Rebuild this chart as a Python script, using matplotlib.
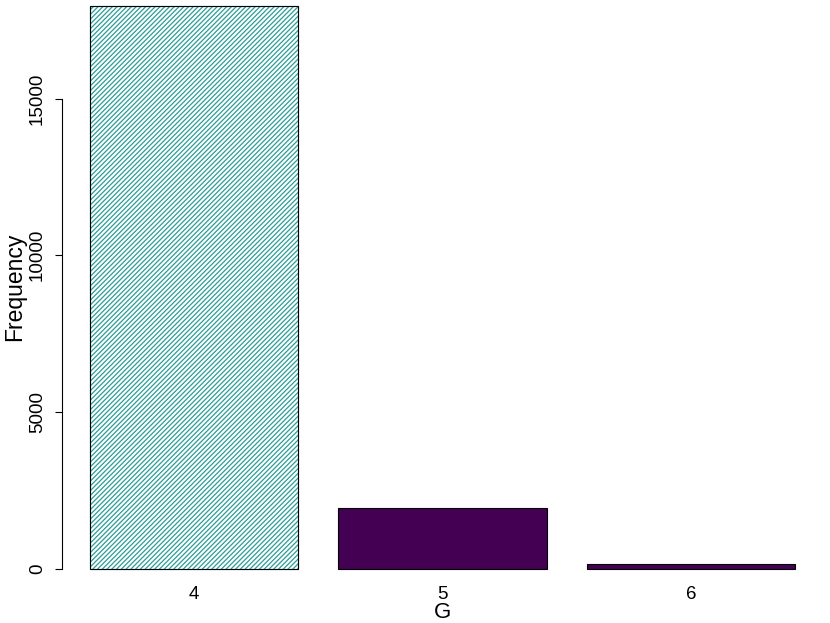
import matplotlib.pyplot as plt

plt.rcParams['font.family'] = ['Liberation Sans', 'DejaVu Sans']
plt.rcParams['hatch.linewidth'] = 0.9

categories = ['4', '5', '6']
freq = [17970, 1920, 150]
yticks = [0, 5000, 10000, 15000]

fig = plt.figure(figsize=(8.3, 6.23), dpi=100)
ax = fig.add_axes([62 / 830, 43 / 623, 764 / 830, 580 / 623])

pos = list(range(len(categories)))
bars = ax.bar(pos, freq, width=0.837, color=['white', '#440154', '#440154'],
              edgecolor='black', linewidth=0.8)
bars[0].set_hatch('///////')
bars[0].set_edgecolor('#2A9D97')
# black outline on top of the hatched bar
ax.bar(pos[0], freq[0], width=0.837, fill=False, edgecolor='black', linewidth=0.8)

ax.set_xlim(-0.531, 2.543)
ax.set_ylim(-367, 18151)

ax.set_xticks(pos)
ax.set_xticklabels(categories, fontsize=13.5)
ax.tick_params(axis='x', length=0, pad=4)

ax.set_yticks(yticks)
ax.set_yticklabels([str(v) for v in yticks], fontsize=13.5, rotation=90, va='center')
ax.tick_params(axis='y', length=5, width=0.8, pad=6.5)

for s in ['top', 'right', 'bottom']:
    ax.spines[s].set_visible(False)
ax.spines['left'].set_bounds(0, 15000)
ax.spines['left'].set_linewidth(0.8)

fig.text(15 / 830, 1 - 287 / 623, 'Frequency', rotation=90, ha='center', va='center', fontsize=16.5)
fig.text(442 / 830, 1 - 613 / 623, 'G', ha='center', va='center', fontsize=16)

plt.savefig('out.png', dpi=100)
plt.close()
